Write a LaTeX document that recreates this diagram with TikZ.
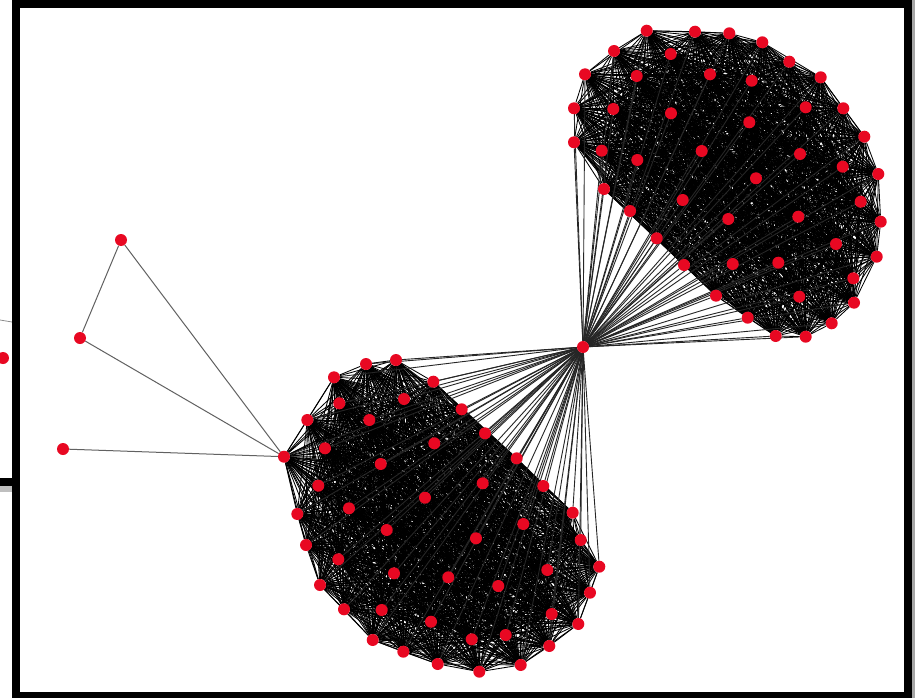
\documentclass[tikz,border=0pt]{standalone}
\usepackage{tikz}
\pgfdeclarelayer{bg}
\pgfdeclarelayer{edges}
\pgfsetlayers{bg,edges,main}
\definecolor{vred}{RGB}{232,8,34}
\tikzset{
  vtx/.style={circle,fill=vred,inner sep=0pt,minimum size=12pt},
  clq/.style={black,line width=0.85pt},
  fan/.style={black!85,line width=0.9pt},
  outer/.style={black!62,line width=1pt},
  framebar/.style={fill=black,draw=none}
}
\begin{document}
\begin{tikzpicture}[x=1pt,y=-1pt]
\begin{pgfonlayer}{bg}
\fill[white] (0,0) rectangle (915,698);
\end{pgfonlayer}
\useasboundingbox (0,0) rectangle (915,698);
% top cluster nodes
\foreach [count=\n] \x/\y in {646.7/30.7,695/31.7,729.3/33.3,762.3/42.3,789.3/61.7,820.7/77.3,843.3/108.3,864.3/136.7,878.3/174,860.7/201.7,880.7/221.7,876.7/256.7,853.3/278.3,854/302.7,831.7/323.3,805.7/336.7,775.7/336,747.7/317.7,716/295.7,684/265,656.7/238.3,630/211,604/189,574/142.3,574/108.3,585/74.3,614/51,670.7/54,636.7/76,710/74.3,751.7/80.7,613.3/109,671/113.3,749.3/122.3,805.7/107.3,601.7/150.7,637.3/160,701.7/151,800/154,842.7/166.7,756/178.3,682.7/200,728.3/219,798.3/216.7,836/244,732.7/264,778.3/262.7,799.3/296.7}
  {\node[vtx] (t\n) at (\x,\y) {};}
% bottom cluster nodes (b48 is the left hub)
\foreach [count=\n] \x/\y in {366/364,396/360,334/377.3,433.3/381.7,339.3/403.3,404/399,307.3/420,369.3/420,461.7/409.3,485/433.3,325/448.3,434.3/443.3,380.7/464,516.7/458.3,318.3/485.7,482.7/483.3,543.3/486,425/497.7,297.3/514,349/508.3,572.7/512.7,523.3/524,386.7/530,476/538.3,580.7/540,306/545,338.3/559.3,599.3/566.7,547.3/570,394/573.3,448.3/577.3,498.3/586,590/592.7,320/585,344/609.3,381.7/610,431/621.7,551.7/614,578.3/624,372.7/640,403.3/651.7,471.7/639.3,505.7/635,549.3/646,437.7/664,479.3/671.7,520.7/665,284/456.7}
  {\node[vtx] (b\n) at (\x,\y) {};}
% middle hub and outer nodes
\node[vtx] (mh) at (583,347) {};
\node[vtx] (o1) at (121,240) {};
\node[vtx] (o2) at (80,338) {};
\node[vtx] (o3) at (63,449) {};
\begin{pgfonlayer}{edges}
  \foreach \i in {1,...,47}{
    \pgfmathtruncatemacro\nx{\i+1}
    \foreach \j in {\nx,...,48}{
      \draw[clq] (t\i) -- (t\j);
      \draw[clq] (b\i) -- (b\j);
    }
  }
  \foreach \i in {1,...,48}{
    \draw[fan] (mh) -- (t\i);
    \draw[fan] (mh) -- (b\i);
  }
  \draw[outer] (o1) -- (o2);
  \draw[outer] (o1) -- (b48);
  \draw[outer] (o2) -- (b48);
  \draw[outer] (o3) -- (b48);
  \draw[black!45,line width=0.8pt] (0,320) -- (12,322);
\end{pgfonlayer}
% stray pieces at the left edge
\node[vtx] (stray) at (3,358) {};
\fill[black!25] (0,486) rectangle (12,492);
\fill[framebar] (0,478) rectangle (12,486);
% frame
\fill[black!35] (912,0) rectangle (915,698);
\fill[framebar] (12,0) rectangle (912,8);
\fill[framebar] (12,0) rectangle (20,698);
\fill[framebar] (904,0) rectangle (912,698);
\fill[framebar] (12,692) rectangle (912,698);
\end{tikzpicture}
\end{document}
